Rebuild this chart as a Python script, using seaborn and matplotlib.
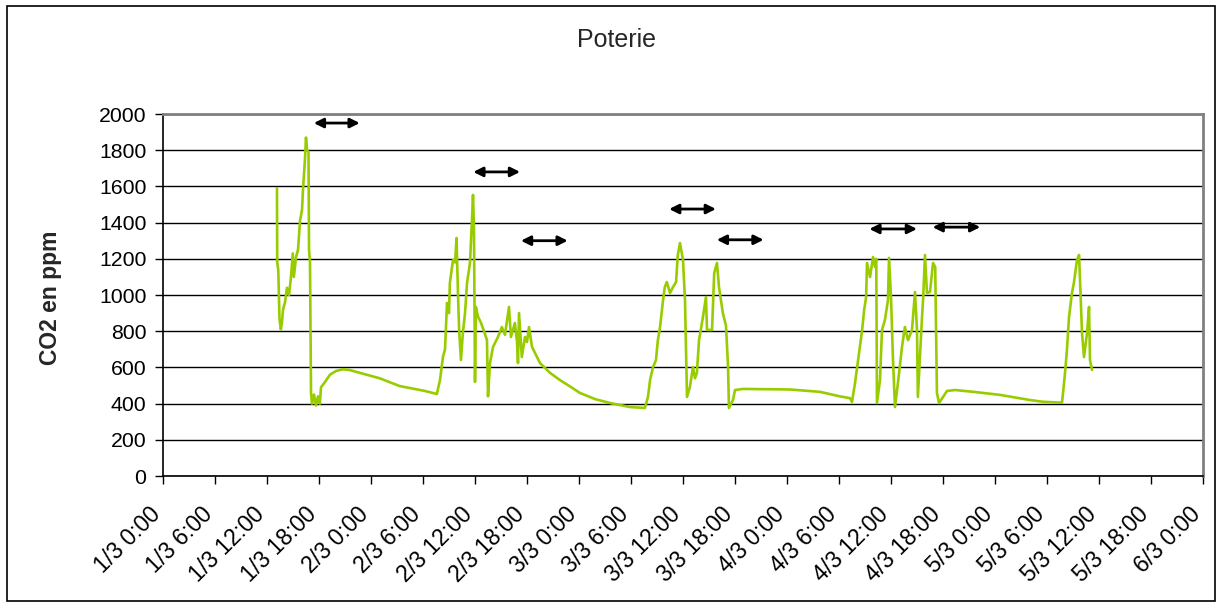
import matplotlib
matplotlib.use("Agg")
import matplotlib.pyplot as plt
from matplotlib.patches import Rectangle
from matplotlib.transforms import ScaledTranslation
import pandas as pd
import seaborn as sns

# Hours elapsed since 1/3 0:00 and the CO2 reading (ppm) at that time
hours = [
    13.15, 13.18, 13.3, 13.44, 13.6, 13.73, 13.85, 14.08, 14.3, 14.54, 14.77, 14.97,
    15.1, 15.35, 15.58, 15.81, 16.04, 16.15, 16.38, 16.5, 16.62, 16.79, 16.85, 16.96,
    17.08, 17.19, 17.42, 17.65, 17.88, 18.1, 18.23, 18.7, 19.27, 19.96, 20.77, 21.6,
    22.7, 25.0, 27.3, 28.5, 30.2, 31.6, 31.96, 32.3, 32.54, 32.77, 33.0, 33.1, 33.46,
    33.7, 33.87, 34.04, 34.17, 34.38, 34.6, 34.85, 35.08, 35.42, 35.65, 35.77, 35.88,
    36.0, 36.1, 36.35, 36.7, 37.04, 37.38, 37.5, 37.73, 38.08, 38.65, 39.1, 39.46,
    39.7, 39.92, 40.15, 40.6, 40.85, 40.96, 41.08, 41.4, 41.77, 42.0, 42.23, 42.58,
    43.5, 44.65, 45.8, 46.96, 48.1, 49.85, 51.6, 53.88, 55.6, 55.96, 56.2, 56.54,
    56.88, 57.1, 57.35, 57.7, 57.9, 58.13, 58.5, 58.85, 59.2, 59.4, 59.65, 60.0,
    60.23, 60.46, 60.8, 61.15, 61.38, 61.6, 61.85, 62.3, 62.65, 62.77, 63.35, 63.6,
    63.92, 64.15, 64.6, 64.96, 65.2, 65.3, 65.77, 66.0, 66.92, 72.35, 75.8, 78.1,
    79.27, 79.5, 79.85, 80.2, 80.67, 80.9, 81.13, 81.23, 81.58, 81.93, 82.15, 82.3,
    82.38, 82.73, 82.96, 83.3, 83.65, 83.77, 84.0, 84.23, 84.46, 84.8, 85.27, 85.6,
    85.96, 86.42, 86.77, 87.0, 87.1, 87.58, 87.7, 87.92, 88.15, 88.5, 88.85, 89.1,
    89.3, 89.54, 90.0, 90.46, 91.4, 93.7, 96.6, 100.0, 101.54, 103.73, 103.85,
    104.08, 104.3, 104.54, 104.88, 105.1, 105.46, 105.7, 106.04, 106.27, 106.62,
    106.85, 106.96, 107.2,
]
co2 = [
    1590, 1180, 1140, 870, 810, 850, 920, 960, 1040, 1000, 1100, 1230,
    1100, 1210, 1250, 1410, 1470, 1580, 1750, 1870, 1800, 1790, 1250, 1180,
    460, 400, 450, 390, 440, 400, 490, 520, 560, 580, 590, 585,
    570, 540, 497, 486, 470, 453, 530, 657, 700, 956, 900, 1066, 1193,
    1180, 1315, 1000, 807, 641, 790, 900, 1066, 1177, 1414, 1553, 1376,
    520, 934, 880, 845, 800, 751, 440, 624, 713, 768, 823, 780,
    862, 934, 768, 845, 740, 624, 900, 657, 768, 740, 823, 713,
    624, 570, 530, 495, 459, 425, 403, 381, 376, 437, 530, 602,
    640, 751, 823, 972, 1044, 1072, 1011, 1044, 1072, 1221, 1287, 1193,
    972, 437, 492, 602, 540, 569, 751, 878, 989, 807, 807, 1121,
    1177, 1044, 900, 830, 602, 376, 420, 475, 481, 478, 465, 440,
    430, 409, 514, 641, 807, 917, 989, 1177, 1099, 1210, 1155, 1200,
    403, 530, 807, 862, 972, 1205, 989, 641, 381, 514, 713, 823,
    751, 807, 1017, 807, 437, 878, 972, 1221, 1011, 1017, 1177, 1155,
    459, 403, 437, 470, 475, 464, 448, 420, 410, 405, 459,
    569, 696, 878, 1011, 1066, 1193, 1221, 790, 657, 790,
    934, 641, 586,
]

# Double-headed arrows marking occupancy periods: start hour, end hour, level
arrow_start = [17.4, 35.8, 41.3, 58.4, 63.9, 81.5, 88.8]
arrow_end = [22.7, 41.2, 46.7, 63.8, 69.3, 87.0, 94.3]
arrow_level = [1950, 1680, 1300, 1475, 1305, 1365, 1375]

tick_hours = list(range(0, 121, 6))
tick_labels = [
    "1/3 0:00", "1/3 6:00", "1/3 12:00", "1/3 18:00",
    "2/3 0:00", "2/3 6:00", "2/3 12:00", "2/3 18:00",
    "3/3 0:00", "3/3 6:00", "3/3 12:00", "3/3 18:00",
    "4/3 0:00", "4/3 6:00", "4/3 12:00", "4/3 18:00",
    "5/3 0:00", "5/3 6:00", "5/3 12:00", "5/3 18:00",
    "6/3 0:00",
]
y_ticks = list(range(0, 2001, 200))

sns.set_theme(style="white")
plt.rcParams["font.family"] = ["Liberation Sans", "DejaVu Sans"]

W, H = 1218, 604
fig = plt.figure(figsize=(W / 100, H / 100), dpi=100)
ax = fig.add_axes([163 / W, 1 - 476 / H, 1040 / W, 362 / H])

df = pd.DataFrame({"hours": hours, "co2": co2})
sns.lineplot(data=df, x="hours", y="co2", sort=False, estimator=None,
             color="#99CC00", linewidth=1.9, ax=ax)

ax.set_xlim(0, 120)
ax.set_ylim(0, 2000)
ax.set_xticks(tick_hours)
ax.set_xticklabels(tick_labels, rotation=45, ha="right", va="center",
                   rotation_mode="anchor", fontsize=16.5)
ax.set_yticks(y_ticks)
ax.set_xlabel("")
ax.set_ylabel("")
ax.tick_params(axis="both", which="major", colors="black",
               length=6, width=1, direction="out", bottom=True, left=True)
ax.tick_params(axis="y", labelsize=15.3, pad=6)
ax.tick_params(axis="x", pad=17)

# nudge the date labels a little left of and below their ticks
shift = ScaledTranslation(-6 / 100, -3 / 100, fig.dpi_scale_trans)
for lbl in ax.get_xticklabels():
    lbl.set_transform(lbl.get_transform() + shift)

ax.yaxis.grid(True, color="black", linewidth=1)
ax.xaxis.grid(False)
ax.set_axisbelow(True)

for side in ("left", "bottom"):
    ax.spines[side].set_color("black")
    ax.spines[side].set_linewidth(1.2)
for side in ("top", "right"):
    ax.spines[side].set_color("#808080")
    ax.spines[side].set_linewidth(2)

for x0, x1, y in zip(arrow_start, arrow_end, arrow_level):
    ax.annotate("", xy=(x1, y), xytext=(x0, y),
                arrowprops=dict(arrowstyle="<|-|>", color="black", lw=2,
                                mutation_scale=14, shrinkA=0, shrinkB=0))

fig.text(616 / W, 1 - 40 / H, "Poterie", fontsize=18, ha="center", va="center")
fig.text(51 / W, 1 - 298 / H, "CO2 en ppm", fontsize=16.5, fontweight="bold",
         rotation=90, ha="center", va="center")

# Outer chart border
fig.add_artist(Rectangle((7 / W, 3 / H), 1208 / W, 595 / H,
                         transform=fig.transFigure, fill=False,
                         edgecolor="black", linewidth=1.2))

fig.savefig("out.png", dpi=100, facecolor="white")
